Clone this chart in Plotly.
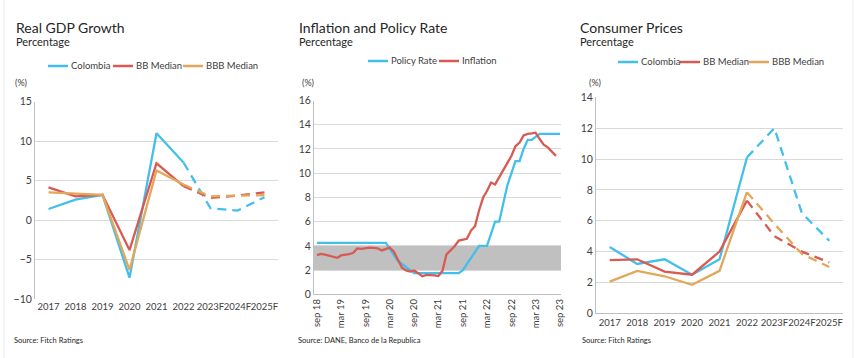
import pandas as pd
import plotly.graph_objects as go

# ---------------- Data ----------------
years = ["2017", "2018", "2019", "2020", "2021", "2022", "2023F", "2024F", "2025F"]

gdp_colombia = [1.4, 2.6, 3.2, -7.3, 11.0, 7.3, 1.5, 1.2, 2.9]
gdp_bb = [4.15, 3.0, 3.2, -3.8, 7.2, 4.3, 2.8, 3.1, 3.5]
gdp_bbb = [3.5, 3.35, 3.2, -6.3, 6.3, 4.5, 3.0, 3.1, 3.15]

cpi_colombia = [4.3, 3.2, 3.5, 2.5, 3.5, 10.1, 12.0, 6.5, 4.7]
cpi_bb = [3.45, 3.5, 2.7, 2.5, 4.0, 7.3, 5.0, 4.0, 3.3]
cpi_bbb = [2.05, 2.75, 2.4, 1.85, 2.75, 7.85, 5.8, 3.85, 3.0]

months = pd.date_range("2018-09-01", "2023-09-01", freq="MS")
policy_rate = (
    [4.25] * 18
    + [3.75, 3.25, 2.75, 2.5, 2.25, 2.0]
    + [1.75] * 12
    + [2.0, 2.5, 3.0, 3.5, 4.0, 4.0, 4.0, 5.0, 6.0, 6.0, 7.5, 9.0, 10.0, 11.0, 11.0, 12.0,
       12.75, 12.75, 13.0, 13.25, 13.25, 13.25, 13.25, 13.25, 13.25]
)
inflation = [
    3.23, 3.33, 3.27, 3.18,
    3.15, 3.01, 3.21, 3.25, 3.31, 3.43, 3.79, 3.75, 3.82, 3.86, 3.84, 3.80,
    3.62, 3.72, 3.86, 3.51, 2.85, 2.19, 1.97, 1.88, 1.97, 1.75, 1.49, 1.61,
    1.60, 1.56, 1.51, 1.95, 3.30, 3.63, 3.97, 4.44, 4.51, 4.58, 5.26, 5.62,
    6.94, 8.01, 8.53, 9.23, 9.07, 9.67, 10.21, 10.84, 11.44, 12.22, 12.53, 13.12,
    13.25, 13.28, 13.34, 12.82, 12.36, 12.13, 11.78, 11.43,
]
infl_months = months[: len(inflation)]
tick_months = pd.date_range("2018-09-01", "2023-09-01", freq="6MS")
tick_labels = ["sep 18", "mar 19", "sep 19", "mar 20", "sep 20", "mar 21",
               "sep 21", "mar 22", "sep 22", "mar 23", "sep 23"]

target_band = [2, 4]

# ---------------- Styling ----------------
BLUE = "#42bfeb"
RED = "#d85a52"
ORANGE = "#e3a75a"
GRID = "#d9d9d9"
AXIS = "#bfbfbf"
TXT = "#404040"
FONT = "Lato"
W = 866
H = 358
LW = 2.3
DASH = "9px,6px"

fig = go.Figure()

ACT = 6  # number of actual (non-forecast) points, up to 2022


def add_series(x, y, name, color, xa, ya):
    fig.add_trace(go.Scatter(x=x[:ACT], y=y[:ACT], name=name, mode="lines",
                             line=dict(color=color, width=LW), xaxis=xa, yaxis=ya,
                             showlegend=False, hoverinfo="skip"))
    fig.add_trace(go.Scatter(x=x[ACT - 1:], y=y[ACT - 1:], name=name + " (F)",
                             mode="lines",
                             line=dict(color=color, width=LW, dash=DASH), xaxis=xa,
                             yaxis=ya, showlegend=False, hoverinfo="skip"))


add_series(years, gdp_colombia, "Colombia", BLUE, "x", "y")
add_series(years, gdp_bb, "BB Median", RED, "x", "y")
add_series(years, gdp_bbb, "BBB Median", ORANGE, "x", "y")

fig.add_trace(go.Scatter(x=months, y=policy_rate, name="Policy Rate", mode="lines",
                         line=dict(color=BLUE, width=LW), xaxis="x2", yaxis="y2",
                         showlegend=False, hoverinfo="skip"))
fig.add_trace(go.Scatter(x=infl_months, y=inflation, name="Inflation", mode="lines",
                         line=dict(color=RED, width=LW), xaxis="x2", yaxis="y2",
                         showlegend=False, hoverinfo="skip"))

add_series(years, cpi_colombia, "Colombia", BLUE, "x3", "y3")
add_series(years, cpi_bb, "BB Median", RED, "x3", "y3")
add_series(years, cpi_bbb, "BBB Median", ORANGE, "x3", "y3")


def px_x(a, b):
    return [a / W, b / W]


def px_y(top, bottom):
    return [1 - bottom / H, 1 - top / H]


tickfont = dict(family=FONT, size=10.5, color=TXT)

common_y = dict(showgrid=True, gridcolor=GRID, gridwidth=1, showline=True,
                linecolor=AXIS, linewidth=1, zeroline=False, ticks="",
                tickfont=tickfont, fixedrange=True, automargin=False)
common_x = dict(showgrid=False, showline=True, linecolor=AXIS, linewidth=1,
                zeroline=False, ticks="", tickfont=tickfont, fixedrange=True,
                automargin=False)
cat_font = dict(family=FONT, size=9.5, color=TXT)

fig.update_layout(
    width=W, height=H,
    margin=dict(l=0, r=0, t=0, b=0, autoexpand=False),
    paper_bgcolor="white", plot_bgcolor="white",
    font=dict(family=FONT, color=TXT),
    showlegend=False,
    xaxis=dict(common_x, domain=px_x(35, 278), type="category",
               range=[-0.5, 8.5], anchor="y", showline=False, tickangle=0,
               tickfont=cat_font),
    yaxis=dict(common_y, domain=px_y(101.7, 299), range=[-10, 15], dtick=5,
               anchor="x"),
    xaxis2=dict(common_x, domain=px_x(314, 561), type="date",
                range=["2018-08-10", "2023-09-08"], tickvals=tick_months,
                ticktext=tick_labels, tickangle=-90,
                tickfont=dict(family=FONT, size=9.5, color=TXT), anchor="y2"),
    yaxis2=dict(common_y, domain=px_y(100.5, 294.3), range=[0, 16], dtick=2,
                anchor="x2"),
    xaxis3=dict(common_x, domain=px_x(596, 843), type="category",
                range=[-0.5, 8.5], anchor="y3", tickangle=0, tickfont=cat_font),
    yaxis3=dict(common_y, domain=px_y(97.3, 313.3), range=[0, 14], dtick=2,
                anchor="x3"),
)

shapes = []
# target band on the inflation chart
shapes.append(dict(type="rect", xref="x2 domain", yref="y2", x0=0, x1=1,
                   y0=target_band[0], y1=target_band[1], fillcolor="#c0c0c0",
                   line=dict(width=0), layer="below"))

# faint panel borders
for xp in (4, 853):
    shapes.append(dict(type="line", xref="paper", yref="paper", x0=xp / W, x1=xp / W,
                       y0=0, y1=1, line=dict(color="#ececec", width=1)))

annos = []
panels = [
    (14, "Real GDP Growth", 13, "Source: Fitch Ratings", 12),
    (296.5, "Inflation and Policy Rate", 300, "Source: DANE, Banco de la Republica", 296),
    (578, "Consumer Prices", 587, "Source: Fitch Ratings", 580),
]
for tx, title, px_, src, sx in panels:
    annos.append(dict(text=title, x=tx / W, y=1 - 27 / H, xref="paper", yref="paper",
                      xanchor="left", yanchor="middle", showarrow=False,
                      font=dict(family=FONT, size=14, color="#262626")))
    annos.append(dict(text="Percentage", x=tx / W, y=1 - 41 / H, xref="paper",
                      yref="paper", xanchor="left", yanchor="middle", showarrow=False,
                      font=dict(family=FONT, size=11, color="#262626")))
    annos.append(dict(text="(%)", x=px_ / W, y=1 - 82 / H, xref="paper", yref="paper",
                      xanchor="left", yanchor="middle", showarrow=False,
                      font=dict(family=FONT, size=9, color=TXT)))
    annos.append(dict(text=src, x=sx / W, y=1 - 340 / H, xref="paper", yref="paper",
                      xanchor="left", yanchor="middle", showarrow=False,
                      font=dict(family=FONT, size=7.5, color="#262626")))

# custom legends (sample line + label)
legend_items = [
    # (line start px, y px, color, label)
    (48, 66, BLUE, "Colombia"), (113, 66, RED, "BB Median"), (183, 66, ORANGE, "BBB Median"),
    (368, 61, BLUE, "Policy Rate"), (439, 61, RED, "Inflation"),
    (618, 62, BLUE, "Colombia"), (680, 62, RED, "BB Median"), (749, 62, ORANGE, "BBB Median"),
]
for lx, ly, col, lab in legend_items:
    shapes.append(dict(type="line", xref="paper", yref="paper", x0=lx / W,
                       x1=(lx + 20) / W, y0=1 - ly / H, y1=1 - ly / H,
                       line=dict(color=col, width=2.5)))
    annos.append(dict(text=lab, x=(lx + 20.5) / W, y=1 - ly / H, xref="paper",
                      yref="paper", xanchor="left", yanchor="middle", showarrow=False,
                      font=dict(family=FONT, size=9.5, color=TXT)))

fig.update_layout(shapes=shapes, annotations=annos)

fig.write_html(
    "out.html",
    config={"displayModeBar": False, "staticPlot": True},
    post_script="document.body.style.margin='0';document.body.style.padding='0';",
)
